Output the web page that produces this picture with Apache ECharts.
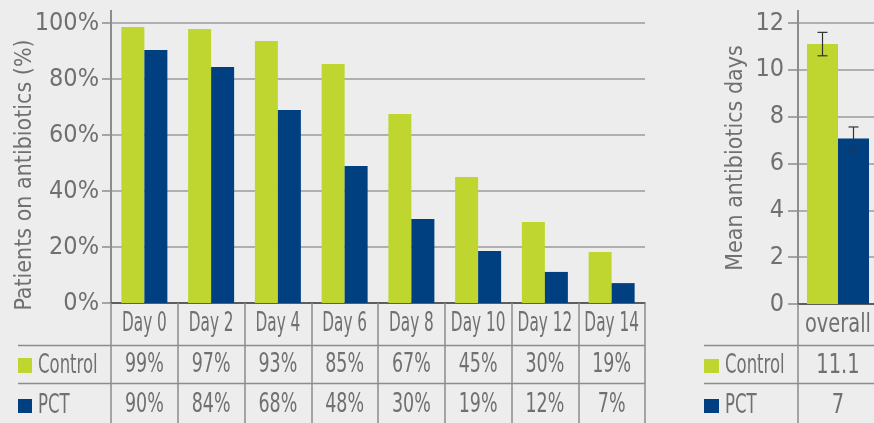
<!DOCTYPE html>
<html>
<head>
<meta charset="utf-8">
<script src="https://cdn.jsdelivr.net/npm/echarts@6/dist/echarts.min.js"></script>
<style>
  html, body { margin: 0; padding: 0; background: #ededed; }
  #chart { width: 874px; height: 423px; }
</style>
</head>
<body>
<div id="chart"></div>
<script>
// 每日用药比例 (左图)
var days = ["Day 0", "Day 2", "Day 4", "Day 6", "Day 8", "Day 10", "Day 12", "Day 14"];
var controlPct = [98.6, 97.9, 93.6, 85.4, 67.5, 45, 28.9, 18.2];
var pctPct = [90.4, 84.3, 68.9, 48.9, 30, 18.6, 11.1, 7.1];
var controlPctLabels = ["99%", "97%", "93%", "85%", "67%", "45%", "30%", "19%"];
var pctPctLabels = ["90%", "84%", "68%", "48%", "30%", "19%", "12%", "7%"];

// 平均用药天数 (右图)
var overallCats = ["overall"];
var controlDays = [11.1];
var pctDays = [7.07];
var controlDayLabels = ["11.1"];
var pctDayLabels = ["7"];
var controlErr = [[10.6, 11.6]];
var pctErr = [[6.58, 7.56]];

var GREEN = "#bed62f";
var BLUE = "#003f80";
var TEXT = "#707070";
var LINE = "#8c8c8c";
var FONT = "'DejaVu Sans Condensed', 'DejaVu Sans', sans-serif";
var BAR_L = 23;
var BAR_R = 31;
var FS = 27;

function cellText(x, y, text, sx) {
  return {
    type: "text", x: x, y: y, scaleX: sx,
    style: {
      text: text, fill: TEXT, fontSize: FS, fontFamily: FONT,
      align: "center", verticalAlign: "middle",
      textAlign: "center", textVerticalAlign: "middle"
    }
  };
}

// 表格单元格 (随类目轴定位)
function tableSeries(axisIdx, heads, row1, row2) {
  return {
    type: "custom",
    xAxisIndex: axisIdx,
    yAxisIndex: axisIdx,
    silent: true,
    clip: false,
    data: heads.map(function (h, i) { return [i, 0]; }),
    renderItem: function (params, api) {
      var i = params.dataIndex;
      var p = api.coord([api.value(0), api.value(1)]);
      return {
        type: "group",
        children: [
          cellText(p[0], p[1] + 21, heads[i], axisIdx === 0 ? 0.63 : 0.8),
          cellText(p[0], p[1] + 62, row1[i], axisIdx === 0 ? 0.72 : 0.8),
          cellText(p[0], p[1] + 102, row2[i], axisIdx === 0 ? 0.72 : 0.8)
        ]
      };
    }
  };
}

function errorSeries(err, side) {
  return {
    type: "custom",
    xAxisIndex: 1,
    yAxisIndex: 1,
    z: 10,
    silent: true,
    data: err.map(function (e, i) { return [i, e[0], e[1]]; }),
    renderItem: function (params, api) {
      var lo = api.coord([api.value(0), api.value(1)]);
      var hi = api.coord([api.value(0), api.value(2)]);
      var x = lo[0] + side * BAR_R / 2;
      var st = { stroke: "#333", lineWidth: 1.2 };
      return {
        type: "group",
        children: [
          { type: "line", shape: { x1: x, y1: lo[1], x2: x, y2: hi[1] }, style: st },
          { type: "line", shape: { x1: x - 5, y1: lo[1], x2: x + 5, y2: lo[1] }, style: st },
          { type: "line", shape: { x1: x - 5, y1: hi[1], x2: x + 5, y2: hi[1] }, style: st }
        ]
      };
    }
  };
}

function legendText(x, y, text) {
  return {
    type: "text", x: x, y: y, scaleX: 0.68,
    style: {
      text: text, fill: TEXT, fontSize: FS, fontFamily: FONT,
      align: "left", verticalAlign: "middle",
      textAlign: "left", textVerticalAlign: "middle"
    }
  };
}

var chart = echarts.init(document.getElementById("chart"));
var option = {
  backgroundColor: "#ededed",
  animation: false,
  textStyle: { fontFamily: FONT },
  grid: [
    { left: 111, top: 23, width: 534, height: 280, outerBoundsMode: "none", containLabel: false },
    { left: 798, top: 23, width: 80, height: 281, outerBoundsMode: "none", containLabel: false }
  ],
  xAxis: [
    {
      type: "category", gridIndex: 0, data: days,
      axisLine: { lineStyle: { color: "#444", width: 1.5 } },
      axisTick: { show: true, length: 125, lineStyle: { color: LINE, width: 1.5 } },
      axisLabel: { show: false }
    },
    {
      type: "category", gridIndex: 1, data: overallCats,
      axisLine: { lineStyle: { color: "#444", width: 1.5 } },
      axisTick: { show: true, length: 125, lineStyle: { color: LINE, width: 1.5 } },
      axisLabel: { show: false }
    }
  ],
  yAxis: [
    {
      type: "value", gridIndex: 0, min: 0, max: 100, interval: 20,
      name: "Patients on antibiotics (%)", nameLocation: "middle", nameGap: 74, nameMoveOverlap: false,
      nameTextStyle: { fontSize: 23, color: TEXT, fontFamily: FONT, padding: [0, 24, 0, 0] },
      axisLine: { show: true, lineStyle: { color: LINE, width: 2 } },
      axisTick: { show: true, length: 9, lineStyle: { color: LINE, width: 1.5 } },
      axisLabel: { margin: 12, fontSize: 25, color: TEXT, formatter: "{value}%" },
      splitLine: { lineStyle: { color: "#9a9a9a", width: 1.5 } }
    },
    {
      type: "value", gridIndex: 1, min: 0, max: 12, interval: 2,
      name: "Mean antibiotics days", nameLocation: "middle", nameGap: 50, nameMoveOverlap: false,
      nameTextStyle: { fontSize: 23, color: TEXT, fontFamily: FONT, padding: [0, 0, 0, 11] },
      axisLine: { show: true, lineStyle: { color: LINE, width: 2 } },
      axisTick: { show: true, length: 10, lineStyle: { color: LINE, width: 1.5 } },
      axisLabel: { margin: 14, fontSize: 25, color: TEXT },
      splitLine: { lineStyle: { color: "#9a9a9a", width: 1.5 } }
    }
  ],
  series: [
    { name: "Control", type: "bar", xAxisIndex: 0, yAxisIndex: 0, data: controlPct, barWidth: BAR_L, barGap: "0%", itemStyle: { color: GREEN } },
    { name: "PCT", type: "bar", xAxisIndex: 0, yAxisIndex: 0, data: pctPct, barWidth: BAR_L, barGap: "0%", itemStyle: { color: BLUE } },
    { name: "Control", type: "bar", xAxisIndex: 1, yAxisIndex: 1, data: controlDays, barWidth: BAR_R, barGap: "0%", itemStyle: { color: GREEN } },
    { name: "PCT", type: "bar", xAxisIndex: 1, yAxisIndex: 1, data: pctDays, barWidth: BAR_R, barGap: "0%", itemStyle: { color: BLUE } },
    errorSeries(controlErr, -1),
    errorSeries(pctErr, 1),
    tableSeries(0, days, controlPctLabels, pctPctLabels),
    tableSeries(1, overallCats, controlDayLabels, pctDayLabels)
  ],
  graphic: [
    // 表格横线
    { type: "line", shape: { x1: 18, y1: 345.5, x2: 645, y2: 345.5 }, style: { stroke: LINE, lineWidth: 1.5 } },
    { type: "line", shape: { x1: 18, y1: 383.5, x2: 645, y2: 383.5 }, style: { stroke: LINE, lineWidth: 1.5 } },
    { type: "line", shape: { x1: 704, y1: 345.5, x2: 874, y2: 345.5 }, style: { stroke: LINE, lineWidth: 1.5 } },
    { type: "line", shape: { x1: 704, y1: 383.5, x2: 874, y2: 383.5 }, style: { stroke: LINE, lineWidth: 1.5 } },
    // 坐标轴顶部延长
    { type: "line", shape: { x1: 111, y1: 10, x2: 111, y2: 23 }, style: { stroke: LINE, lineWidth: 2 } },
    { type: "line", shape: { x1: 798, y1: 10, x2: 798, y2: 23 }, style: { stroke: LINE, lineWidth: 2 } },
    // 图例
    { type: "rect", shape: { x: 18, y: 358, width: 14, height: 15 }, style: { fill: GREEN } },
    { type: "rect", shape: { x: 18, y: 399, width: 14, height: 14 }, style: { fill: BLUE } },
    legendText(38, 366, "Control"),
    legendText(38, 406, "PCT"),
    { type: "rect", shape: { x: 704, y: 359, width: 15, height: 14 }, style: { fill: GREEN } },
    { type: "rect", shape: { x: 704, y: 399, width: 15, height: 14 }, style: { fill: BLUE } },
    legendText(725, 366, "Control"),
    legendText(725, 406, "PCT")
  ]
};
chart.setOption(option);
</script>
</body>
</html>
